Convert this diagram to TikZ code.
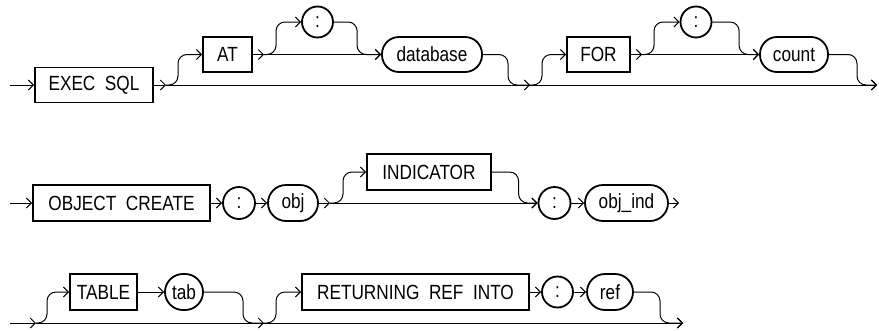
\documentclass[tikz,border=0pt]{standalone}
\usepackage{fontspec}
\setmainfont{Liberation Sans}[FakeStretch=0.84]
\usetikzlibrary{arrows.meta,calc}
\tikzset{
  ln/.style={line width=1pt},
  arr/.style={-{Straight Barb[length=5pt,width=10pt,line width=1pt]}},
  kw/.style={draw,line width=1.8pt,rectangle,inner sep=0pt,minimum height=35pt,font=\fontsize{20.5}{24}\selectfont},
  var/.style={draw,line width=1.8pt,rectangle,rounded corners=17pt,inner sep=0pt,minimum height=35pt,font=\fontsize{20.5}{24}\selectfont},
  colon/.style={draw,line width=1.8pt,circle,inner sep=0pt,minimum size=31pt,font=\fontsize{20.5}{24}\selectfont},
  br/.style={ln,arr,rounded corners=9pt}
}
\begin{document}
\begin{tikzpicture}[x=1pt,y=-1pt]
\useasboundingbox (0,0) rectangle (879,330);
% ---------- Row 1 ----------
\node[kw,minimum width=118pt] (exec) at (94,85) {EXEC\ \ SQL};
\node[kw,minimum width=49pt] (at) at (227.5,54.5) {AT};
\node[colon] (c1) at (317.5,22) {:};
\node[var,minimum width=100pt] (db) at (432,54.5) {database};
\node[kw,minimum width=63pt] (for) at (598.5,54.5) {FOR};
\node[colon] (c2) at (696,22) {:};
\node[var,minimum width=68pt] (count) at (794,54.5) {count};
\coordinate (s1) at (10,85);
\coordinate (j1) at (166,85);
\coordinate (j2) at (264,54.5);
\coordinate (j3) at (530,85);
\coordinate (j4) at (642,54.5);
\coordinate (e1) at (877,85);
\draw[ln,arr] (s1) -- (exec.west);
\draw[ln,arr] (exec.east) -- (j1);
\draw[ln,arr] (j1) -- (e1);
\draw[br] (j1) -- ++(12,0) |- (at.west);
\draw[ln,arr] (at.east) -- (j2);
\draw[ln,arr] (j2) -- (db.west);
\draw[br] (j2) -- ++(12,0) |- (c1.west);
\draw[br] (c1.east) -| ([xshift=-24pt]db.west) -- (db.west);
\draw[br] (db.east) -| ([xshift=-22pt]j3) -- (j3);
\draw[br] (j3) -- ++(12,0) |- (for.west);
\draw[ln,arr] (for.east) -- (j4);
\draw[ln,arr] (j4) -- (count.west);
\draw[br] (j4) -- ++(12,0) |- (c2.west);
\draw[br] (c2.east) -| ([xshift=-20pt]count.west) -- (count.west);
\draw[br] (count.east) -| ([xshift=-20pt]e1) -- (e1);
% ---------- Row 2 ----------
\node[kw,minimum width=177pt,minimum height=36pt] (oc) at (121.5,203) {OBJECT\ \ CREATE};
\node[colon,minimum size=32pt] (c3) at (239,203) {:};
\node[var,minimum width=50pt,minimum height=36pt,rounded corners=18pt] (obj) at (293,203) {obj};
\node[kw,minimum width=124pt,minimum height=36pt] (ind) at (429,172) {INDICATOR};
\node[colon,minimum size=32pt] (c4) at (554.5,203) {:};
\node[var,minimum width=83pt,minimum height=36pt,rounded corners=18pt] (objind) at (626.5,203) {obj\_ind};
\coordinate (s2) at (10,203);
\coordinate (j5) at (330,203);
\coordinate (e2) at (679,203);
\draw[ln,arr] (s2) -- (oc.west);
\draw[ln,arr] (oc.east) -- (c3.west);
\draw[ln,arr] (c3.east) -- (obj.west);
\draw[ln,arr] (obj.east) -- (j5);
\draw[ln,arr] (j5) -- (c4.west);
\draw[br] (j5) -- ++(13,0) |- (ind.west);
\draw[br] (ind.east) -| ([xshift=-19pt]c4.west) -- (c4.west);
\draw[ln,arr] (c4.east) -- (objind.west);
\draw[ln,arr] (objind.east) -- (e2);
% ---------- Row 3 ----------
\node[kw,minimum width=67pt,minimum height=36pt] (table) at (103.5,292) {TABLE};
\node[var,minimum width=38pt,minimum height=36pt,rounded corners=18pt] (tab) at (184,292) {tab};
\node[kw,minimum width=227pt,minimum height=36pt] (ret) at (415.5,292) {RETURNING\ \ REF\ \ INTO};
\node[colon] (c5) at (557.5,292) {:};
\node[var,minimum width=46pt,minimum height=36pt,rounded corners=18pt] (ref) at (610,292) {ref};
\coordinate (s3) at (10,323);
\coordinate (j6) at (36,323);
\coordinate (j7) at (264,323);
\coordinate (e3) at (683,323);
\draw[ln,arr] (s3) -- (j6);
\draw[ln,arr] (j6) -- (e3);
\draw[br] (j6) -- ++(11,0) |- (table.west);
\draw[ln,arr] (table.east) -- (tab.west);
\draw[br] (tab.east) -| ([xshift=-21pt]j7) -- (j7);
\draw[br] (j7) -- ++(12,0) |- (ret.west);
\draw[ln,arr] (ret.east) -- (c5.west);
\draw[ln,arr] (c5.east) -- (ref.west);
\draw[br] (ref.east) -| ([xshift=-23pt]e3) -- (e3);
\end{tikzpicture}
\end{document}
